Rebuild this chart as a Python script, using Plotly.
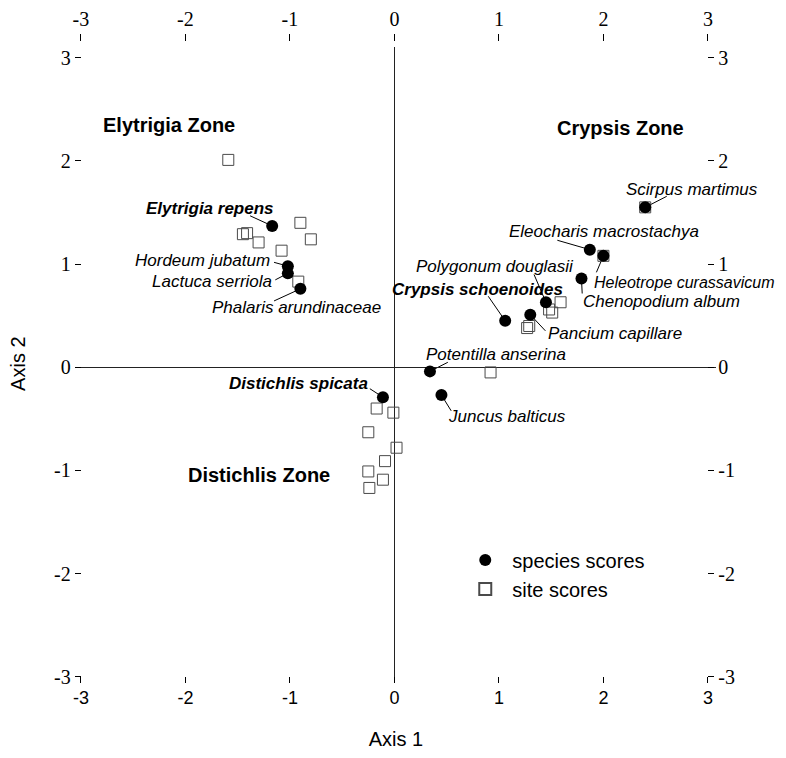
import plotly.graph_objects as go

# ---- ordination scores -------------------------------------------------
species_names = [
    "Elytrigia repens", "Hordeum jubatum", "Lactuca serriola", "Phalaris arundinaceae",
    "Scirpus martimus", "Eleocharis macrostachya", "Heleotrope curassavicum",
    "Chenopodium album", "Polygonum douglasii", "Pancium capillare",
    "Crypsis schoenoides", "Potentilla anserina", "Juncus balticus", "Distichlis spicata",
]
species_x = [-1.17, -1.02, -1.02, -0.90, 2.40, 1.87, 2.00, 1.79, 1.45, 1.30, 1.06, 0.34, 0.45, -0.11]
species_y = [1.37, 0.98, 0.91, 0.76, 1.55, 1.14, 1.08, 0.86, 0.63, 0.51, 0.45, -0.04, -0.27, -0.29]

site_x = [-1.59, -0.90, -1.45, -1.41, -1.30, -0.80, -1.08, -0.92,
          2.40, 2.00, 1.59, 1.48, 1.51, 1.27, 1.29, 0.92,
          -0.17, -0.01, -0.25, 0.02, -0.09, -0.25, -0.11, -0.24]
site_y = [2.01, 1.40, 1.29, 1.30, 1.21, 1.24, 1.13, 0.83,
          1.55, 1.08, 0.63, 0.56, 0.53, 0.38, 0.40, -0.05,
          -0.40, -0.44, -0.63, -0.78, -0.91, -1.01, -1.09, -1.17]

tick_values = [-3, -2, -1, 0, 1, 2, 3]
tick_text = ["-3", "-2", "-1", "0", "1", "2", "3"]

zone_names = ["Elytrigia Zone", "Crypsis Zone", "Distichlis Zone"]

# ---- label placement (text anchor, leader start) -------------------------
label_layout = {
    "Elytrigia repens":        dict(tx=-1.133, ty=1.536, anchor="right", lx=-1.381, ly=1.468, bold=True, size=17),
    "Hordeum jubatum":         dict(tx=-1.171, ty=1.036, anchor="right", lx=-1.152, ly=1.017, bold=False, size=17),
    "Lactuca serriola":        dict(tx=-1.152, ty=0.835, anchor="right", lx=-1.140, ly=0.847, bold=False, size=17),
    "Phalaris arundinaceae":   dict(tx=-1.762, ty=0.576, anchor="left", lx=-1.152, ly=0.643, bold=False, size=17),
    "Scirpus martimus":        dict(tx=2.200, ty=1.727, anchor="left", lx=2.606, ly=1.657, bold=False, size=17),
    "Eleocharis macrostachya": dict(tx=1.076, ty=1.318, anchor="left", lx=1.559, ly=1.231, bold=False, size=17),
    "Heleotrope curassavicum": dict(tx=1.895, ty=0.818, anchor="left", lx=1.933, ly=0.920, bold=False, size=16),
    "Chenopodium album":       dict(tx=1.781, ty=0.634, anchor="left", lx=1.797, ly=0.715, bold=False, size=17),
    "Polygonum douglasii":     dict(tx=0.967, ty=0.976, anchor="center", lx=1.336, ly=0.899, bold=False, size=17),
    "Pancium capillare":       dict(tx=1.454, ty=0.329, anchor="left", lx=1.445, ly=0.353, bold=False, size=17),
    "Crypsis schoenoides":     dict(tx=1.629, ty=0.749, anchor="right", lx=0.898, ly=0.688, bold=True, size=17),
    "Potentilla anserina":     dict(tx=0.283, ty=0.128, anchor="left", lx=0.511, ly=0.048, bold=False, size=17),
    "Juncus balticus":         dict(tx=0.495, ty=-0.480, anchor="left", lx=0.543, ly=-0.422, bold=False, size=17),
    "Distichlis spicata":      dict(tx=-0.238, ty=-0.160, anchor="right", lx=-0.235, ly=-0.208, bold=True, size=17),
}
zone_layout = {
    "Elytrigia Zone": (-2.16, 2.35),
    "Crypsis Zone": (2.16, 2.32),
    "Distichlis Zone": (-1.30, -1.04),
}

W, H = 786, 758
SANS = "Liberation Sans, Arial, sans-serif"
SERIF = "Liberation Serif, Times New Roman, serif"
NARROW = "Liberation Sans Narrow, Arial Narrow, Liberation Sans, sans-serif"

fig = go.Figure()

fig.add_trace(go.Scatter(
    x=site_x, y=site_y, mode="markers", name="site scores",
    marker=dict(symbol="square-open", size=11, color="#4a4a4a", line=dict(width=1)),
    legendrank=2, hoverinfo="skip",
))
fig.add_trace(go.Scatter(
    x=species_x, y=species_y, mode="markers", name="species scores",
    marker=dict(symbol="circle", size=12, color="black"),
    text=species_names, legendrank=1,
))
# carrier trace for the top / right axes
fig.add_trace(go.Scatter(x=[None], y=[None], xaxis="x2", yaxis="y2",
                         showlegend=False, hoverinfo="skip"))

shapes = []
annotations = []
for name, sx, sy in zip(species_names, species_x, species_y):
    lab = label_layout[name]
    shapes.append(dict(type="line", xref="x", yref="y", x0=lab["lx"], y0=lab["ly"],
                       x1=sx, y1=sy, line=dict(color="black", width=1), layer="below"))
    annotations.append(dict(
        x=lab["tx"], y=lab["ty"], xref="x", yref="y", text=name, showarrow=False,
        xanchor=lab["anchor"], yanchor="middle",
        font=dict(family=SANS, size=lab["size"], color="black", style="italic",
                  weight="bold" if lab["bold"] else "normal"),
    ))
for zone in zone_names:
    zx, zy = zone_layout[zone]
    annotations.append(dict(
        x=zx, y=zy, xref="x", yref="y", text=zone, showarrow=False,
        xanchor="center", yanchor="middle",
        font=dict(family=SANS, size=20, color="black", weight="bold"),
    ))

x_dom = [73 / W, 716 / W]
y_dom = [1 - 687 / H, 1 - 47 / H]

tick_common = dict(tickmode="array", tickvals=tick_values, ticktext=tick_text,
                   ticks="outside", tickcolor="black", tickwidth=1,
                   showgrid=False, showline=False)

fig.update_layout(
    width=W, height=H,
    margin=dict(l=0, r=0, t=0, b=0),
    paper_bgcolor="white", plot_bgcolor="white",
    showlegend=True,
    legend=dict(x=457 / W, y=1 - 546 / H, xanchor="left", yanchor="top",
                font=dict(family=SANS, size=20, color="black"),
                bgcolor="rgba(0,0,0,0)", itemsizing="constant", itemwidth=44,
                tracegroupgap=0),
    xaxis=dict(domain=x_dom, range=[-3.05, 3.08], anchor="free", position=1 - 683 / H,
               side="bottom", ticklen=6, zeroline=True, zerolinecolor="#222",
               zerolinewidth=1, tickfont=dict(family=NARROW, size=18, color="black"),
               title=dict(text="Axis 1", font=dict(family=SANS, size=20, color="black"),
                          standoff=24),
               **tick_common),
    yaxis=dict(domain=y_dom, range=[-3.03, 3.1], anchor="free", position=78 / W,
               side="left", ticklen=6, zeroline=True, zerolinecolor="#222",
               zerolinewidth=1, tickfont=dict(family=SERIF, size=20, color="black"),
               title=dict(text="Axis 2", font=dict(family=SANS, size=20, color="black"),
                          standoff=22),
               **tick_common),
    xaxis2=dict(overlaying="x", matches="x", side="top", anchor="free",
                position=1 - 40 / H, ticklen=7, zeroline=False,
                tickfont=dict(family=SERIF, size=20, color="black"), **tick_common),
    yaxis2=dict(overlaying="y", matches="y", side="right", anchor="free",
                position=707 / W, ticklen=6, zeroline=False,
                tickfont=dict(family=SERIF, size=20, color="black"), **tick_common),
    shapes=shapes,
    annotations=annotations,
)

fig.write_html("out.html")
